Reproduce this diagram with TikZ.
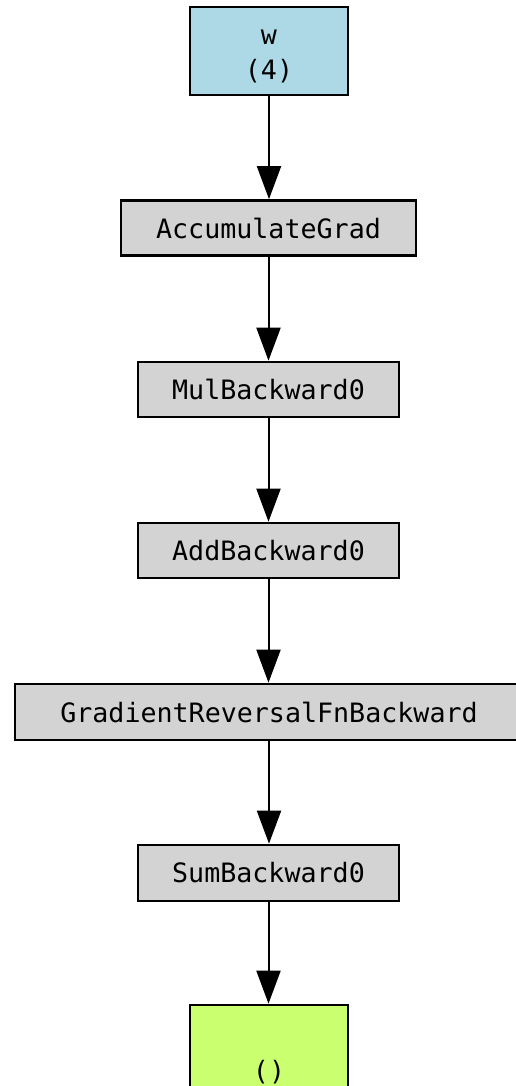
\documentclass[tikz,border=0pt]{standalone}
\usepackage{fontspec}
\setmonofont{DejaVu Sans Mono}
\usetikzlibrary{arrows.meta}
\definecolor{leafblue}{HTML}{ADD8E6}
\definecolor{fngrey}{HTML}{D3D3D3}
\definecolor{outgreen}{HTML}{CAFF70}
\newlength{\pxu}
\setlength{\pxu}{0.75pt}
\tikzset{
  gnode/.style={draw=black, line width=2pt, rectangle, inner sep=0pt,
    font=\ttfamily\fontsize{20}{26.25}\selectfont, align=center, text=black},
  fnbox/.style={gnode, fill=fngrey, minimum height=55\pxu},
  tensorbox/.style={gnode, minimum width=158\pxu, minimum height=88\pxu},
  flow/.style={line width=1.5pt, -{Triangle[length=24.75pt, width=18pt]}}
}
\begin{document}
\begin{tikzpicture}[x=0.75pt, y=-0.75pt]
  \useasboundingbox (0,0) rectangle (516,1086);
  \node[tensorbox, fill=leafblue] (w) at (269,51) {\rule{0pt}{18.5pt}w\\(4)};
  \node[fnbox, minimum width=295\pxu] (acc) at (268.5,228) {AccumulateGrad};
  \node[fnbox, minimum width=261\pxu] (mul) at (268.5,389.5) {MulBackward0};
  \node[fnbox, minimum width=261\pxu] (add) at (268.5,550.5) {AddBackward0};
  \node[fnbox, minimum width=508\pxu, minimum height=56\pxu] (grl) at (269,712) {GradientReversalFnBackward};
  \node[fnbox, minimum width=261\pxu, minimum height=56\pxu] (sum) at (268.5,873) {SumBackward0};
  \node[tensorbox, fill=outgreen] (out) at (269,1049) {\rule{0pt}{24pt}\\()};
  \draw[flow] (w.south) -- (w.south |- acc.north);
  \draw[flow] (acc.south) -- (acc.south |- mul.north);
  \draw[flow] (mul.south) -- (mul.south |- add.north);
  \draw[flow] (add.south) -- (add.south |- grl.north);
  \draw[flow] (grl.south) -- (grl.south |- sum.north);
  \draw[flow] (sum.south) -- (sum.south |- out.north);
\end{tikzpicture}
\end{document}
